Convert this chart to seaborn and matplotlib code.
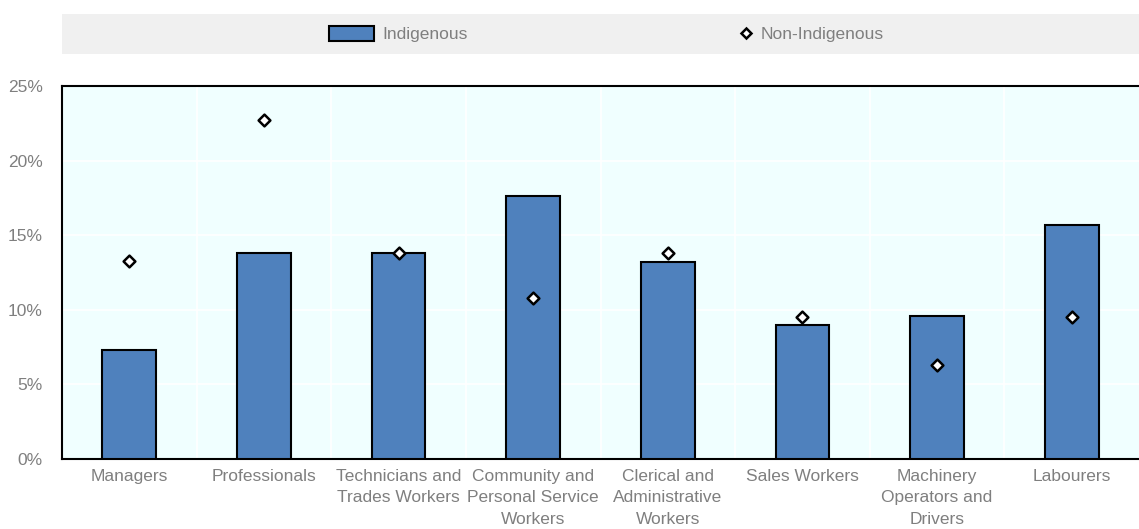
import numpy as np
import pandas as pd
import matplotlib
matplotlib.use('Agg')
import matplotlib.pyplot as plt
import seaborn as sns
from matplotlib.patches import Rectangle
from matplotlib.lines import Line2D

# 데이터
categories = ['Managers', 'Professionals', 'Technicians and\nTrades Workers',
              'Community and\nPersonal Service\nWorkers', 'Clerical and\nAdministrative\nWorkers',
              'Sales Workers', 'Machinery\nOperators and\nDrivers', 'Labourers']
indigenous = [7.3, 13.8, 13.8, 17.6, 13.2, 9.0, 9.6, 15.7]
non_indigenous = [13.3, 22.7, 13.8, 10.8, 13.8, 9.5, 6.3, 9.5]
y_ticks = [0, 5, 10, 15, 20, 25]

df = pd.DataFrame({'cat': categories, 'Indigenous': indigenous, 'Non-Indigenous': non_indigenous})

sns.set_style('white')
plt.rcParams['font.family'] = ['Liberation Sans Narrow', 'Liberation Sans', 'DejaVu Sans']

bar_color = '#4f81bd'
grey_text = '#7f7f7f'

fig = plt.figure(figsize=(11.39, 5.29), dpi=100)
ax = fig.add_axes([62 / 1139, 70 / 529, 1 - 62 / 1139, 373 / 529])
ax.set_facecolor('#f0ffff')

sns.barplot(data=df, x='cat', y='Indigenous', color=bar_color, edgecolor='black',
            linewidth=1.5, width=0.4, ax=ax, zorder=3, saturation=1)
sns.stripplot(data=df, x='cat', y='Non-Indigenous', jitter=False, marker='D', size=6,
              color='white', edgecolor='black', linewidth=1.8, ax=ax, zorder=4)

ax.set_xlim(-0.5, 7.5)
ax.set_ylim(0, 25)
ax.set_yticks(y_ticks)
ax.set_yticklabels([f'{v}%' for v in y_ticks])
ax.set_xlabel('')
ax.set_ylabel('')
for lab in ax.get_xticklabels():
    lab.set_linespacing(1.55)

# 그리드
ax.set_xticks(np.arange(0.5, 7.5, 1), minor=True)
ax.grid(True, which='minor', axis='x', color='white', linewidth=1.2, zorder=0)
ax.grid(True, which='major', axis='y', color='white', linewidth=1.2, zorder=0)
ax.set_axisbelow(True)

ax.tick_params(axis='x', which='major', length=0, labelsize=12.5, labelcolor=grey_text, pad=7)
ax.tick_params(axis='x', which='minor', direction='in', length=4, width=1.5, color='black')
ax.tick_params(axis='y', which='major', direction='in', length=5, width=1.5, color='black',
               labelsize=12.5, labelcolor=grey_text, pad=14)

for side in ['left', 'bottom', 'top']:
    ax.spines[side].set_visible(True)
    ax.spines[side].set_color('black')
    ax.spines[side].set_linewidth(1.5)
ax.spines['right'].set_visible(False)

# 범례
fig.patches.append(Rectangle((62 / 1139, (529 - 54) / 529), 1 - 62 / 1139, 40 / 529,
                             transform=fig.transFigure, facecolor='#f0f0f0', edgecolor='none',
                             zorder=0))
leg_y = (529 - 34) / 529
h1 = Rectangle((0, 0), 1, 1, facecolor=bar_color, edgecolor='black', linewidth=1.5)
h2 = Line2D([], [], marker='D', linestyle='none', markersize=5, markerfacecolor='white',
            markeredgecolor='black', markeredgewidth=1.8)
leg1 = fig.legend([h1], ['Indigenous'], loc='center left', bbox_to_anchor=(329 / 1139, leg_y),
                  frameon=False, fontsize=12.5, handlelength=2.6, handleheight=1.0,
                  handletextpad=0.5, borderpad=0, borderaxespad=0)
leg2 = fig.legend([h2], ['Non-Indigenous'], loc='center left', bbox_to_anchor=(737 / 1139, leg_y),
                  frameon=False, fontsize=12.5, handlelength=1.0, handletextpad=0.35,
                  borderpad=0, borderaxespad=0)
for leg in (leg1, leg2):
    for t in leg.get_texts():
        t.set_color(grey_text)

fig.savefig('out.png', dpi=100)
